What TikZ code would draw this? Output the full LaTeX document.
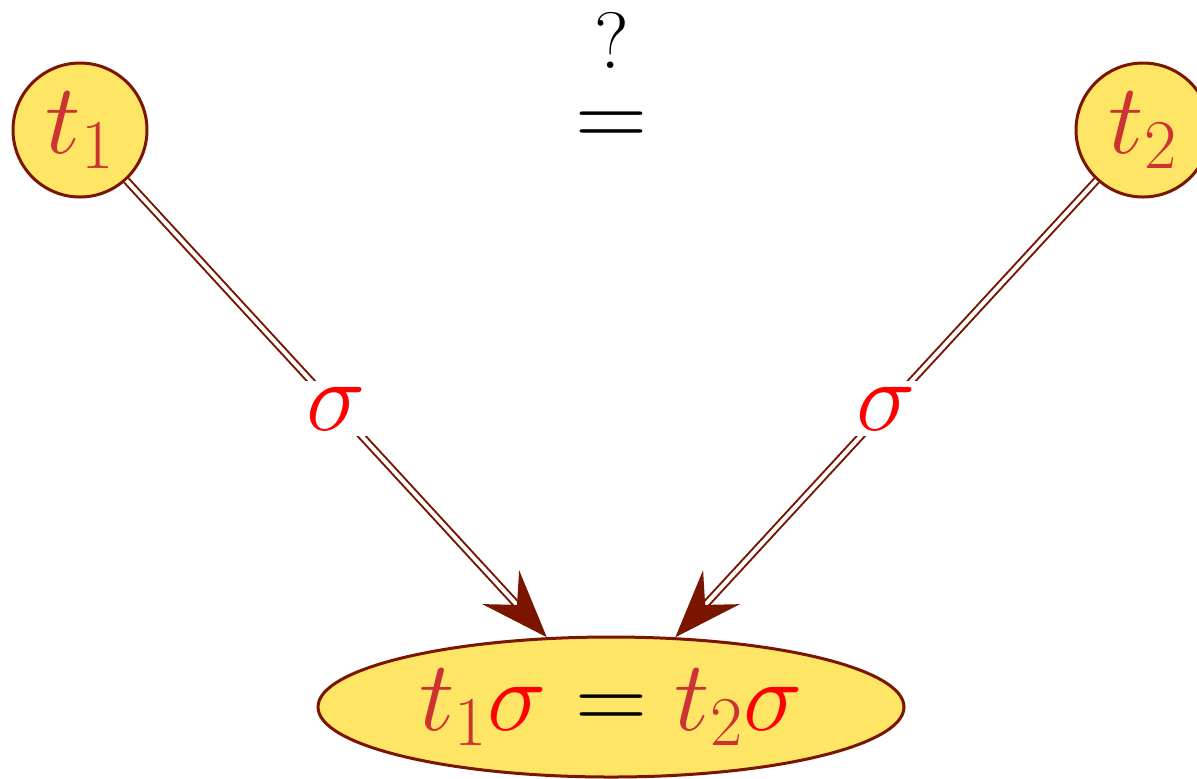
\RequirePackage{fix-cm}
\documentclass[tikz,border=0pt]{standalone}
\usetikzlibrary{arrows.meta,shapes.geometric}
\definecolor{bord}{RGB}{122,21,0}
\definecolor{fillY}{RGB}{255,229,102}
\definecolor{tcol}{RGB}{204,51,51}
\begin{document}
\begin{tikzpicture}[x=0.5pt,y=-0.5pt,
  bigfont/.style={font=\fontsize{50}{60}\selectfont},
  term/.style={circle,draw=bord,line width=1.5pt,fill=fillY,minimum size=67pt,inner sep=0pt,bigfont},
  goal/.style={ellipse,draw=bord,line width=1.5pt,fill=fillY,minimum width=293pt,minimum height=70pt,inner sep=0pt,bigfont},
  conn/.style={draw=bord,double=white,line width=1pt,double distance=2pt,-{Stealth[length=34pt,width=25pt,inset=12pt]}},
  lab/.style={midway,fill=white,inner sep=3pt,text=red,bigfont}]
\useasboundingbox (0,0) rectangle (1197,778);
\node[term] (t1) at (80,130) {$\textcolor{tcol}{t_1}$};
\node[term] (t2) at (1143,130) {$\textcolor{tcol}{t_2}$};
\node[goal] (e) at (611,707) {$\textcolor{tcol}{t_1}\textcolor{red}{\sigma}=\textcolor{tcol}{t_2}\textcolor{red}{\sigma}$};
\node[anchor=base,inner sep=0pt,bigfont] (eq) at (611,147) {$=$};
\node[anchor=base,inner sep=0pt,font=\fontsize{40}{48}\selectfont] (q) at (612,68) {?};
\draw[conn] (t1) -- node[lab] {$\sigma$} (e);
\draw[conn] (t2) -- node[lab] {$\sigma$} (e);
\end{tikzpicture}
\end{document}
